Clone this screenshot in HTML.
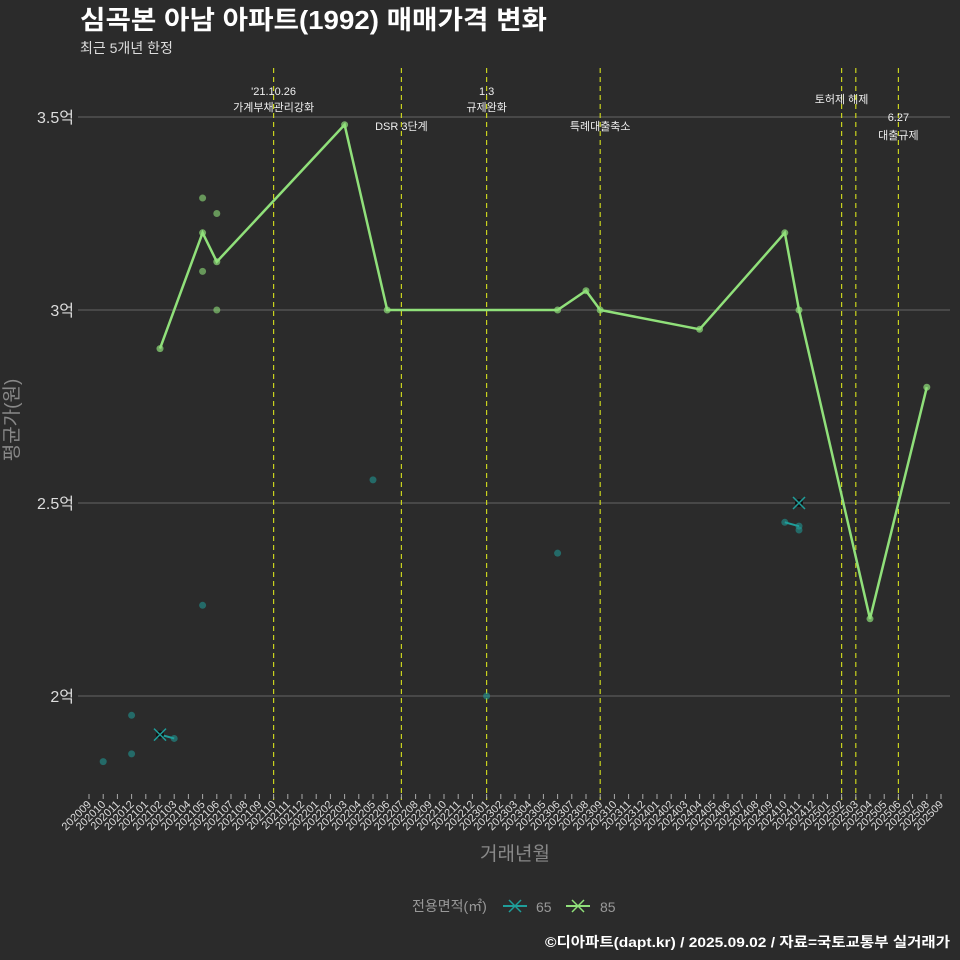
<!DOCTYPE html>
<html><head><meta charset="utf-8"><style>
body{margin:0;background:#2b2b2b;}
svg{display:block;font-family:"Liberation Sans","Noto Sans CJK KR",sans-serif;}
</style></head><body>
<svg id="chart" width="960" height="960" viewBox="0 0 960 960">
<rect width="960" height="960" fill="#2b2b2b"/>
<text x="80" y="29" font-size="26" font-weight="bold" fill="#fff" textLength="467" lengthAdjust="spacingAndGlyphs">심곡본 아남 아파트(1992) 매매가격 변화</text>
<text x="80" y="53" font-size="14" fill="#ddd">최근 5개년 한정</text>
<g id="grid"></g>
<g id="events"></g>
<g id="marks"></g>
<g id="xaxis"></g>
<text x="18" y="420" font-size="19" fill="#888" transform="rotate(-90 18 420)" text-anchor="middle">평균가(원)</text>
<text x="515" y="860" font-size="19" fill="#888" text-anchor="middle">거래년월</text>
<g>
<text x="412" y="911" font-size="14" fill="#999">전용면적(㎡)</text>
<g><line x1="503" y1="906" x2="527" y2="906" stroke="#1f9e9a" stroke-width="2"/><path d="M509 900l12 12M521 900l-12 12" stroke="#1f9e9a" stroke-width="1.5"/><text x="536" y="912" font-size="14" fill="#999">65</text></g>
<g><line x1="566" y1="906" x2="590" y2="906" stroke="#90e07a" stroke-width="2"/><path d="M572 900l12 12M584 900l-12 12" stroke="#90e07a" stroke-width="1.5"/><text x="600" y="912" font-size="14" fill="#999">85</text></g>
</g>
<text x="950" y="947" font-size="14" font-weight="bold" fill="#fff" text-anchor="end" textLength="405" lengthAdjust="spacingAndGlyphs">©디아파트(dapt.kr) / 2025.09.02 / 자료=국토교통부 실거래가</text>
</svg>
<script>
const months=[];for(let y=2020,m=9;months.length<61;){months.push(y+String(m).padStart(2,'0'));m++;if(m>12){m=1;y++;}}
const yTicks=[2,2.5,3,3.5];
const yTickLabels=['2억','2.5억','3억','3.5억'];
const line85Months=['202102','202105','202106','202203','202206','202306','202308','202309','202404','202410','202411','202504','202508'];
const line85Values=[2.9,3.2,3.125,3.48,3.0,3.0,3.05,3.0,2.95,3.2,3.0,2.2,2.8];
const pts85Months=['202105','202106','202105','202106'];
const pts85Values=[3.29,3.25,3.1,3.0];
const pts65Months=['202010','202012','202012','202102','202103','202105','202205','202301','202306','202410','202411','202411'];
const pts65Values=[1.83,1.95,1.85,1.9,1.89,2.235,2.56,2.0,2.37,2.45,2.44,2.43];
const seg65Months=[['202102','202103'],['202410','202411']];
const seg65Values=[[1.9,1.89],[2.45,2.44]];
const cross65Months=['202102','202411'];
const cross65Values=[1.9,2.5];
const eventMonths=['202110','202207','202301','202309','202502','202503','202506'];
const eventLabels=[["'21.10.26","가계부채관리강화"],["","DSR 3단계"],["1.3","규제완화"],["","특례대출축소"],["","토허제 해제"],["",""],["6.27","대출규제"]];
const eventLabelY=[[95,111],[0,130],[95,111],[0,130],[0,103],[0,0],[121,139]];
const NS='http://www.w3.org/2000/svg';
const X=m=>89+14.2*months.indexOf(m);
const Y=v=>696-(v-2)*386;
function mk(p,t,a){const e=document.createElementNS(NS,t);for(const k in a)e.setAttribute(k,a[k]);p.appendChild(e);return e;}
const grid=document.getElementById('grid'),ev=document.getElementById('events'),mg=document.getElementById('marks'),xa=document.getElementById('xaxis');
yTicks.forEach((v,i)=>{
 const l=mk(grid,'line',{x1:78,x2:950,y1:Y(v),y2:Y(v),stroke:'#666','stroke-width':1});
 
 
 const t=mk(grid,'text',{x:74,y:Y(v)+6,'font-size':16,fill:'#ddd','text-anchor':'end'});t.textContent=yTickLabels[i];
 
 
});
months.forEach(m=>{
 const x=X(m);
 const tk=mk(xa,'line',{x1:x,x2:x,y1:794,y2:799,stroke:'#aaa'});
 
 
 const t=mk(xa,'text',{x:x+3,y:805,'font-size':11,fill:'#ddd','text-anchor':'end',transform:`rotate(-45 ${x+3} 805)`});t.textContent=m;
 
 
});
eventMonths.forEach((m,i)=>{
 const x=X(m);
 const l=mk(ev,'line',{x1:x,x2:x,y1:68,y2:800,stroke:'#c8d21e','stroke-width':1.2,'stroke-dasharray':'5,4'});
 
 
 eventLabels[i].forEach((s,j)=>{if(!s)return;
  const t=mk(ev,'text',{x:x,y:eventLabelY[i][j],'font-size':11,fill:'#eee','text-anchor':'middle'});t.textContent=s;
  
  });
});
pts65Months.forEach((m,i)=>{
 const c=mk(mg,'circle',{cx:X(m),cy:Y(pts65Values[i]),r:3.5,fill:'#1f9e9a','fill-opacity':0.55});
 
 
});
seg65Months.forEach((s,i)=>{
 const l=mk(mg,'line',{x1:X(s[0]),y1:Y(seg65Values[i][0]),x2:X(s[1]),y2:Y(seg65Values[i][1]),stroke:'#1f9e9a','stroke-width':2});
 
 
});
cross65Months.forEach((m,i)=>{
 const x=X(m),y=Y(cross65Values[i]);
 mk(mg,'circle',{cx:x,cy:y,r:4,fill:'#111'});
 const p=mk(mg,'path',{d:`M${x-6} ${y-6}L${x+6} ${y+6}M${x+6} ${y-6}L${x-6} ${y+6}`,stroke:'#1f9e9a','stroke-width':1.5});
 
 
});
pts85Months.forEach((m,i)=>{
 const c=mk(mg,'circle',{cx:X(m),cy:Y(pts85Values[i]),r:3.5,fill:'#90e07a','fill-opacity':0.6});
 
 
});
const pl=mk(mg,'polyline',{points:line85Months.map((m,i)=>X(m)+','+Y(line85Values[i])).join(' '),fill:'none',stroke:'#90e07a','stroke-width':2.5});


line85Months.forEach((m,i)=>{
 const c=mk(mg,'circle',{cx:X(m),cy:Y(line85Values[i]),r:3.5,fill:'#90e07a','fill-opacity':0.7});
 
 
});
</script>
</body></html>
